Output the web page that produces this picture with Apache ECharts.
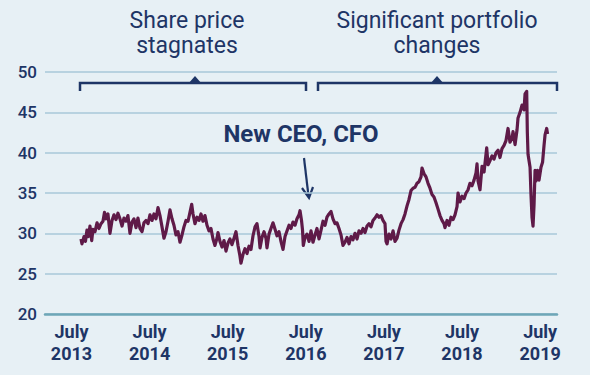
<!DOCTYPE html>
<html>
<head>
<meta charset="utf-8">
<script src="https://cdn.jsdelivr.net/npm/echarts@6/dist/echarts.min.js"></script>
<style>
  html, body { margin: 0; padding: 0; background: #e7f0f5; }
  #chart { width: 590px; height: 375px; }
</style>
</head>
<body>
<div id="chart"></div>
<script>
// dates as decimal years (2013.5 = July 2013), prices
var years = [
  2013.622, 2013.634, 2013.660, 2013.679, 2013.698, 2013.718, 2013.737, 2013.759, 2013.775, 2013.801,
  2013.827, 2013.852, 2013.878, 2013.903, 2013.923, 2013.942, 2013.967, 2013.993, 2014.019, 2014.044,
  2014.070, 2014.095, 2014.121, 2014.147, 2014.172, 2014.198, 2014.223, 2014.249, 2014.275, 2014.300,
  2014.326, 2014.351, 2014.377, 2014.403, 2014.428, 2014.454, 2014.480, 2014.505, 2014.531, 2014.556,
  2014.582, 2014.608, 2014.633, 2014.659, 2014.684, 2014.710, 2014.736, 2014.761, 2014.787, 2014.812,
  2014.838, 2014.864, 2014.889, 2014.915, 2014.940, 2014.966, 2014.992, 2015.017, 2015.039, 2015.056,
  2015.081, 2015.107, 2015.133, 2015.158, 2015.184, 2015.209, 2015.235, 2015.261, 2015.286, 2015.312,
  2015.337, 2015.363, 2015.376, 2015.401, 2015.427, 2015.453, 2015.478, 2015.504, 2015.529, 2015.555,
  2015.581, 2015.606, 2015.632, 2015.657, 2015.670, 2015.696, 2015.721, 2015.747, 2015.773, 2015.798,
  2015.824, 2015.850, 2015.875, 2015.901, 2015.914, 2015.939, 2015.965, 2015.990, 2016.003, 2016.029,
  2016.054, 2016.080, 2016.106, 2016.131, 2016.157, 2016.182, 2016.208, 2016.234, 2016.259, 2016.285,
  2016.310, 2016.336, 2016.362, 2016.387, 2016.413, 2016.426, 2016.445, 2016.458, 2016.468, 2016.490,
  2016.515, 2016.541, 2016.567, 2016.592, 2016.618, 2016.643, 2016.669, 2016.695, 2016.720, 2016.746,
  2016.771, 2016.797, 2016.823, 2016.848, 2016.874, 2016.899, 2016.925, 2016.951, 2016.976, 2017.002,
  2017.028, 2017.053, 2017.079, 2017.104, 2017.130, 2017.156, 2017.181, 2017.207, 2017.232, 2017.258,
  2017.284, 2017.309, 2017.335, 2017.360, 2017.386, 2017.412, 2017.437, 2017.463, 2017.488, 2017.514,
  2017.527, 2017.540, 2017.565, 2017.591, 2017.617, 2017.642, 2017.668, 2017.693, 2017.719, 2017.745,
  2017.770, 2017.796, 2017.821, 2017.847, 2017.873, 2017.898, 2017.924, 2017.949, 2017.975, 2017.988,
  2018.013, 2018.039, 2018.065, 2018.090, 2018.116, 2018.141, 2018.167, 2018.193, 2018.218, 2018.244,
  2018.269, 2018.282, 2018.308, 2018.333, 2018.359, 2018.385, 2018.410, 2018.436, 2018.449, 2018.474,
  2018.500, 2018.526, 2018.551, 2018.577, 2018.602, 2018.628, 2018.654, 2018.679, 2018.692, 2018.705,
  2018.730, 2018.756, 2018.782, 2018.816, 2018.833, 2018.858, 2018.884, 2018.910, 2018.935, 2018.961,
  2018.986, 2019.012, 2019.038, 2019.063, 2019.089, 2019.114, 2019.140, 2019.153, 2019.179, 2019.204,
  2019.217, 2019.243, 2019.268, 2019.294, 2019.307, 2019.328, 2019.336, 2019.345, 2019.371, 2019.383,
  2019.396, 2019.409, 2019.422, 2019.435, 2019.447, 2019.467, 2019.486, 2019.511, 2019.531, 2019.550,
  2019.563, 2019.584, 2019.595
];
var prices = [
  29.3, 28.7, 29.6, 29.0, 30.4, 29.6, 30.9, 29.1, 30.5, 30.2,
  31.3, 30.6, 31.2, 31.5, 32.6, 31.8, 32.4, 30.0, 31.6, 32.3,
  31.7, 32.5, 31.8, 30.9, 31.9, 31.5, 32.2, 30.0, 31.4, 31.8,
  30.7, 31.9, 30.6, 30.2, 31.3, 31.6, 31.2, 32.3, 31.6, 32.4,
  31.8, 33.2, 32.2, 30.8, 29.4, 30.2, 31.5, 32.9, 31.8, 31.0,
  29.8, 30.2, 28.9, 29.8, 30.8, 31.6, 31.5, 32.6, 33.6, 32.4,
  31.2, 32.0, 31.6, 32.4, 31.5, 32.2, 31.0, 30.3, 30.6, 29.3,
  28.5, 29.4, 30.1, 29.0, 28.3, 29.1, 27.8, 28.8, 29.3, 28.6,
  29.4, 30.2, 28.5, 27.2, 26.3, 27.4, 28.1, 27.5, 28.4, 28.0,
  29.7, 30.8, 31.2, 29.6, 28.2, 29.5, 30.2, 29.4, 28.2, 29.9,
  30.6, 31.3, 30.5, 29.7, 30.2, 29.0, 28.0, 29.6, 30.3, 31.0,
  30.6, 31.4, 31.0, 31.8, 32.3, 32.8, 31.6, 30.4, 28.5, 29.5,
  29.9, 29.0, 30.3, 28.9, 29.8, 30.6, 29.3, 30.4, 31.5, 31.0,
  32.0, 32.4, 32.7, 31.8, 31.2, 31.3, 30.6, 29.8, 28.5, 28.9,
  29.5, 28.7, 29.6, 29.2, 30.0, 29.3, 30.3, 30.0, 30.6, 30.1,
  30.9, 31.2, 30.8, 31.6, 31.9, 32.3, 32.0, 32.2, 31.6, 31.2,
  29.0, 28.7, 29.9, 29.3, 30.3, 29.0, 29.4, 30.4, 31.2, 31.7,
  32.4, 33.4, 34.2, 35.3, 35.6, 35.7, 36.2, 36.4, 37.0, 38.1,
  37.4, 37.0, 36.2, 35.6, 34.8, 34.5, 33.8, 33.0, 32.2, 31.6,
  31.2, 30.7, 31.6, 31.0, 32.0, 31.7, 32.3, 33.3, 35.0, 33.9,
  34.6, 34.3, 35.0, 35.4, 36.2, 35.9, 36.6, 37.5, 38.6, 36.5,
  35.4, 38.3, 37.6, 40.6, 38.5, 39.0, 39.6, 39.2, 40.0, 40.3,
  39.4, 40.5, 40.9, 41.5, 43.0, 41.3, 41.8, 42.6, 41.0, 42.8,
  44.3, 45.0, 45.9, 45.3, 47.3, 47.6, 42.6, 39.8, 38.2, 34.8,
  32.0, 30.9, 33.5, 37.8, 36.5, 37.8, 36.6, 38.2, 38.8, 40.9,
  42.2, 43.0, 42.3
];
var tickYears = [2013.5, 2014.5, 2015.5, 2016.5, 2017.5, 2018.5, 2019.5];
var yTicks = [20, 25, 30, 35, 40, 45, 50];

var navy = '#1e3566';
var plum = '#5f1a48';
var grid = '#a9c8d8';
var base = '#6ea6b7';
var font = 'Roboto, "Noto Sans", sans-serif';

var points = years.map(function(y, i) { return [y, prices[i]]; });

var chart = echarts.init(document.getElementById('chart'), null, { renderer: 'svg' });
chart.setOption({
  animation: false,
  backgroundColor: '#e7f0f5',
  grid: { left: 45, right: 33, top: 72, bottom: 61 },
  xAxis: {
    type: 'value',
    min: 2013.161,
    max: 2019.716,
    axisLine: { show: true, lineStyle: { color: base, width: 2.5 } },
    axisTick: { show: false },
    splitLine: { show: false },
    axisLabel: {
      customValues: tickYears,
      formatter: function(v) { return 'July\n' + Math.floor(v); },
      color: navy,
      fontFamily: font,
      fontSize: 18,
      fontWeight: 'bold',
      lineHeight: 22,
      margin: 6
    }
  },
  yAxis: {
    type: 'value',
    min: yTicks[0],
    max: yTicks[yTicks.length - 1],
    interval: 5,
    axisLine: { show: false },
    axisTick: { show: false },
    splitLine: { lineStyle: { color: grid, width: 1.5 } },
    axisLabel: {
      color: navy,
      fontFamily: font,
      fontSize: 17,
      fontWeight: 500,
      margin: 8
    }
  },
  series: [{
    type: 'line',
    data: points,
    showSymbol: false,
    lineStyle: { color: plum, width: 3.2, join: 'round' }
  }],
  graphic: [
    {
      type: 'text', x: 187, y: 8,
      style: { text: 'Share price\nstagnates', fill: navy, font: '23px ' + font, textAlign: 'center', textVerticalAlign: 'top', lineHeight: 25 }
    },
    {
      type: 'text', x: 437, y: 8,
      style: { text: 'Significant portfolio\nchanges', fill: navy, font: '23px ' + font, textAlign: 'center', textVerticalAlign: 'top', lineHeight: 25 }
    },
    {
      type: 'polyline',
      shape: { points: [[80, 91], [80, 83], [306, 83], [306, 91]] },
      style: { stroke: navy, lineWidth: 2.5, fill: null }
    },
    {
      type: 'polyline',
      shape: { points: [[318, 91], [318, 83], [557, 83], [557, 91]] },
      style: { stroke: navy, lineWidth: 2.5, fill: null }
    },
    {
      type: 'polygon',
      shape: { points: [[188, 84], [195, 76], [202, 84]] },
      style: { fill: navy }
    },
    {
      type: 'polygon',
      shape: { points: [[430, 84], [437, 76], [444, 84]] },
      style: { fill: navy }
    },
    {
      type: 'text', x: 301, y: 146,
      style: { text: 'New CEO, CFO', fill: navy, font: 'bold 24px ' + font, textAlign: 'center', textVerticalAlign: 'bottom' }
    },
    {
      type: 'line',
      shape: { x1: 304, y1: 158, x2: 308.5, y2: 196 },
      style: { stroke: navy, lineWidth: 2.2 }
    },
    {
      type: 'polyline',
      shape: { points: [[302, 188], [309, 198], [313, 187]] },
      style: { stroke: navy, lineWidth: 2.2, fill: null }
    }
  ]
});
</script>
</body>
</html>
